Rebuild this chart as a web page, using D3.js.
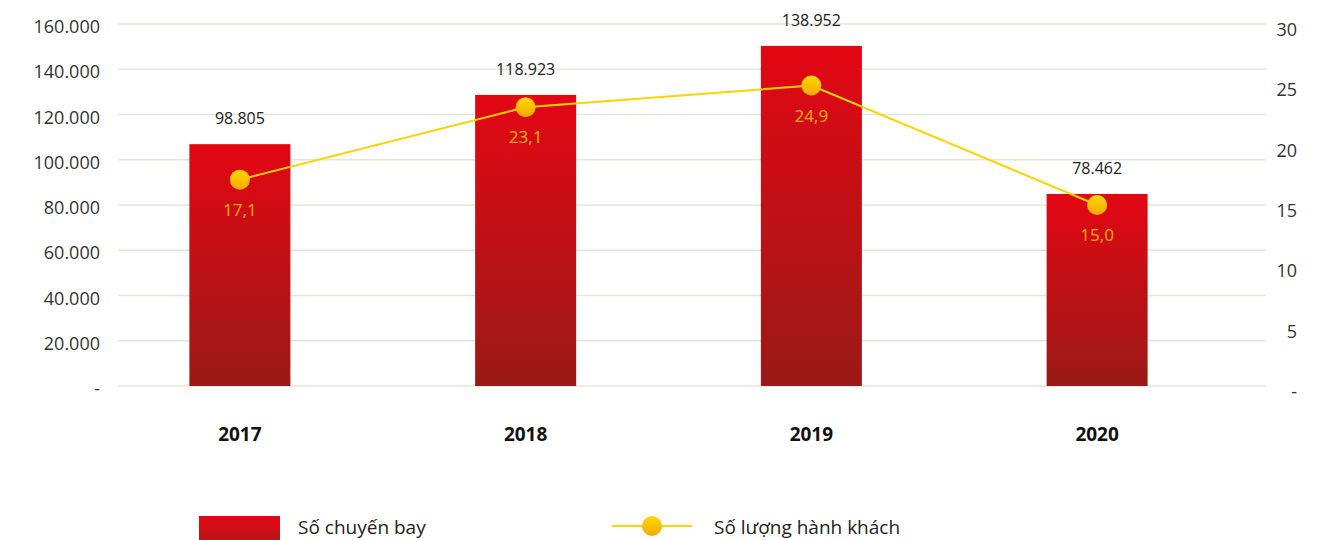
<!DOCTYPE html>
<html>
<head>
<meta charset="utf-8">
<script src="https://cdn.jsdelivr.net/npm/d3@7"></script>
<style>
  html, body { margin: 0; padding: 0; background: #ffffff; }
  svg { display: block; font-family: "Open Sans", "Noto Sans", sans-serif; }
</style>
</head>
<body>
<svg id="chart" width="1328" height="540"></svg>
<script>
// ---- data ----
const years = ["2017", "2018", "2019", "2020"];
const flights = [98805, 118923, 138952, 78462];          // Số chuyến bay
const flightLabels = ["98.805", "118.923", "138.952", "78.462"];
const passengers = [17.1, 23.1, 24.9, 15.0];             // Số lượng hành khách
const passengerLabels = ["17,1", "23,1", "24,9", "15,0"];
const leftTicks = [0, 20000, 40000, 60000, 80000, 100000, 120000, 140000, 160000];
const leftTickLabels = ["-", "20.000", "40.000", "60.000", "80.000", "100.000", "120.000", "140.000", "160.000"];
const rightTicks = [0, 5, 10, 15, 20, 25, 30];
const rightTickLabels = ["-", "5", "10", "15", "20", "25", "30"];
const legendLabels = ["Số chuyến bay", "Số lượng hành khách"];

// ---- layout ----
const svg = d3.select("#chart");
const plotTop = 24, plotBottom = 386;
const gridX0 = 118, gridX1 = 1266;

const x = d3.scaleBand().domain(years).range([97, 1240]).paddingInner(0.6465).paddingOuter(0.3233);
const yLeft = d3.scaleLinear().domain([0, 160000]).range([plotBottom, plotTop]);
const yBar = d3.scaleLinear().domain([0, 147900]).range([plotBottom, plotTop]);
const yRight = d3.scaleLinear().domain([0, 30]).range([plotBottom, plotTop]);

const defs = svg.append("defs");
const barGrad = defs.append("linearGradient").attr("id", "barGrad")
  .attr("x1", 0).attr("y1", 0).attr("x2", 0).attr("y2", 1);
barGrad.append("stop").attr("offset", "0%").attr("stop-color", "#e30714");
barGrad.append("stop").attr("offset", "100%").attr("stop-color", "#9a1a16");
const legGrad = defs.append("linearGradient").attr("id", "legGrad")
  .attr("x1", 0).attr("y1", 0).attr("x2", 0).attr("y2", 1);
legGrad.append("stop").attr("offset", "0%").attr("stop-color", "#e30714");
legGrad.append("stop").attr("offset", "100%").attr("stop-color", "#b01818");
const dotGrad = defs.append("linearGradient").attr("id", "dotGrad")
  .attr("x1", 0).attr("y1", 0).attr("x2", 0).attr("y2", 1);
dotGrad.append("stop").attr("offset", "0%").attr("stop-color", "#ffd800");
dotGrad.append("stop").attr("offset", "100%").attr("stop-color", "#f6a800");

// gridlines
svg.append("g").selectAll("line").data(leftTicks).join("line")
  .attr("x1", gridX0).attr("x2", gridX1)
  .attr("y1", d => yLeft(d)).attr("y2", d => yLeft(d))
  .attr("stroke", "#e8e5d6").attr("stroke-width", 1.3);

// left axis labels
svg.append("g").selectAll("text").data(leftTicks).join("text")
  .attr("x", 100).attr("y", d => yLeft(d) + 9)
  .attr("text-anchor", "end").attr("font-size", 18).attr("fill", "#333")
  .text((d, i) => leftTickLabels[i]);

// right axis labels
svg.append("g").selectAll("text").data(rightTicks).join("text")
  .attr("x", 1297).attr("y", d => yRight(d) + 12)
  .attr("text-anchor", "end").attr("font-size", 18).attr("fill", "#333")
  .text((d, i) => rightTickLabels[i]);

// bars
svg.append("g").selectAll("rect").data(flights).join("rect")
  .attr("x", (d, i) => x(years[i]))
  .attr("width", x.bandwidth())
  .attr("y", d => yBar(d))
  .attr("height", d => plotBottom - yBar(d))
  .attr("fill", "url(#barGrad)");

// bar value labels
svg.append("g").selectAll("text").data(flights).join("text")
  .attr("x", (d, i) => x(years[i]) + x.bandwidth() / 2)
  .attr("y", d => yBar(d) - 20)
  .attr("text-anchor", "middle").attr("font-size", 16).attr("fill", "#222")
  .text((d, i) => flightLabels[i]);

// line
const line = d3.line()
  .x((d, i) => x(years[i]) + x.bandwidth() / 2)
  .y(d => yRight(d));
svg.append("path").datum(passengers)
  .attr("d", line).attr("fill", "none")
  .attr("stroke", "#ffd200").attr("stroke-width", 2);

svg.append("g").selectAll("circle").data(passengers).join("circle")
  .attr("cx", (d, i) => x(years[i]) + x.bandwidth() / 2)
  .attr("cy", d => yRight(d))
  .attr("r", 10)
  .attr("fill", "url(#dotGrad)");

svg.append("g").selectAll("text").data(passengers).join("text")
  .attr("x", (d, i) => x(years[i]) + x.bandwidth() / 2)
  .attr("y", d => yRight(d) + 36)
  .attr("text-anchor", "middle").attr("font-size", 17).attr("fill", "#f5b400")
  .text((d, i) => passengerLabels[i]);

// x axis labels
svg.append("g").selectAll("text").data(years).join("text")
  .attr("x", d => x(d) + x.bandwidth() / 2)
  .attr("y", 441)
  .attr("text-anchor", "middle").attr("font-size", 19).attr("font-weight", "bold").attr("fill", "#111")
  .text(d => d);

// legend
const leg = svg.append("g");
leg.append("rect").attr("x", 199).attr("y", 516).attr("width", 81).attr("height", 30)
  .attr("fill", "url(#legGrad)");
leg.append("text").attr("x", 298).attr("y", 534).attr("font-size", 19).attr("fill", "#222")
  .text(legendLabels[0]);
leg.append("line").attr("x1", 612).attr("x2", 692).attr("y1", 526).attr("y2", 526)
  .attr("stroke", "#ffd200").attr("stroke-width", 2);
leg.append("circle").attr("cx", 652).attr("cy", 526).attr("r", 10).attr("fill", "url(#dotGrad)");
leg.append("text").attr("x", 714).attr("y", 534).attr("font-size", 19).attr("fill", "#222")
  .text(legendLabels[1]);
</script>
</body>
</html>
